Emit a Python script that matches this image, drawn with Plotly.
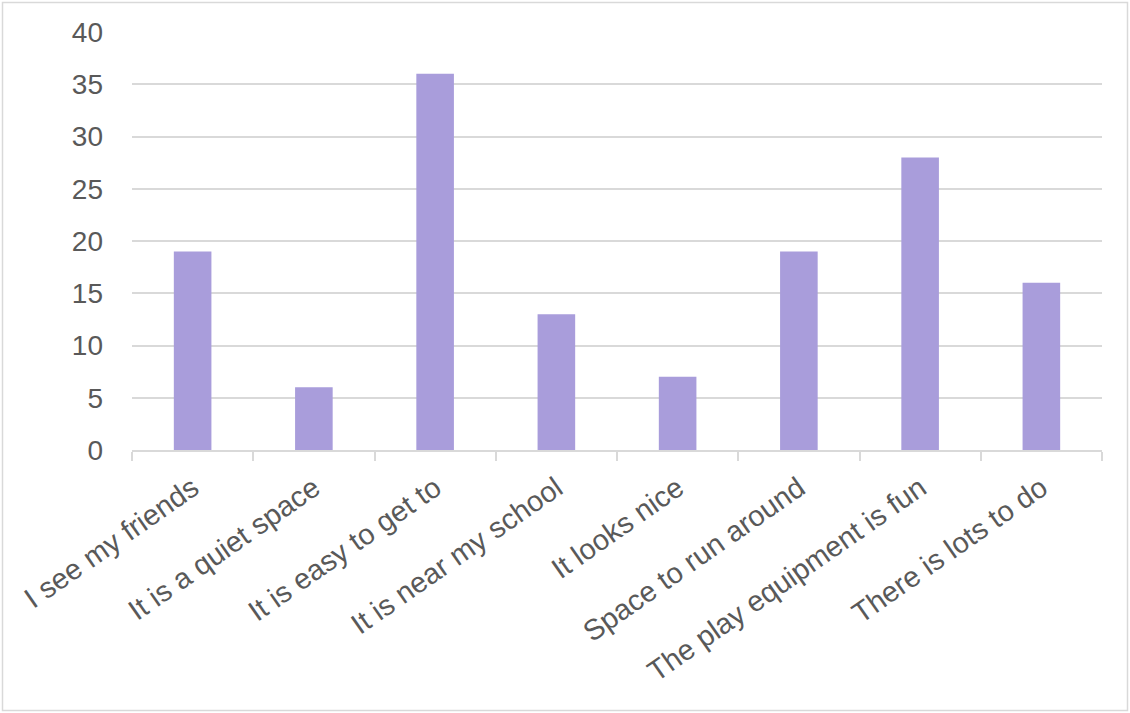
import plotly.graph_objects as go

categories = [
    "I see my friends",
    "It is a quiet space",
    "It is easy to get to",
    "It is near my school",
    "It looks nice",
    "Space to run around",
    "The play equipment is fun",
    "There is lots to do",
]
counts = [19, 6, 36, 13, 7, 19, 28, 16]
y_ticks = [0, 5, 10, 15, 20, 25, 30, 35, 40]

W, H = 1130, 713
L, R, T, B = 132, 28, 32, 263
pw, ph = W - L - R, H - T - B

fig = go.Figure(
    go.Bar(
        x=categories,
        y=counts,
        marker=dict(color="#a99ddb", line=dict(width=0)),
        hoverinfo="x+y",
    )
)

# light grey frame around the whole chart
fig.add_shape(
    type="rect",
    xref="paper", yref="paper",
    x0=(2.5 - L) / pw, x1=(W - 2.5 - L) / pw,
    y0=-(H - 2.5 - T - ph) / ph, y1=1 + (T - 2.5) / ph,
    line=dict(color="#d9d9d9", width=1.5),
    fillcolor="rgba(0,0,0,0)",
    layer="below",
)

fig.update_layout(
    width=W, height=H,
    margin=dict(l=L, r=R, t=T, b=B),
    paper_bgcolor="white",
    plot_bgcolor="white",
    bargap=0.69,
    showlegend=False,
    font=dict(family="Liberation Sans, Arial, sans-serif", color="#595959", size=28),
)
fig.update_xaxes(
    type="category",
    tickangle=-35,
    tickfont=dict(size=29, color="#595959"),
    showline=True,
    linecolor="#d9d9d9",
    linewidth=1.5,
    ticks="outside",
    tickson="boundaries",
    ticklen=9,
    tickcolor="#d9d9d9",
    tickwidth=1.5,
    showgrid=False,
    ticklabelstandoff=8,
)
fig.update_yaxes(
    range=[0, 40],
    tickvals=y_ticks,
    tickfont=dict(size=28, color="#595959"),
    showgrid=True,
    gridcolor="#d9d9d9",
    gridwidth=1.5,
    zeroline=False,
    showline=False,
    ticks="",
    ticklabelstandoff=28,
)

fig.write_html("out.html")
